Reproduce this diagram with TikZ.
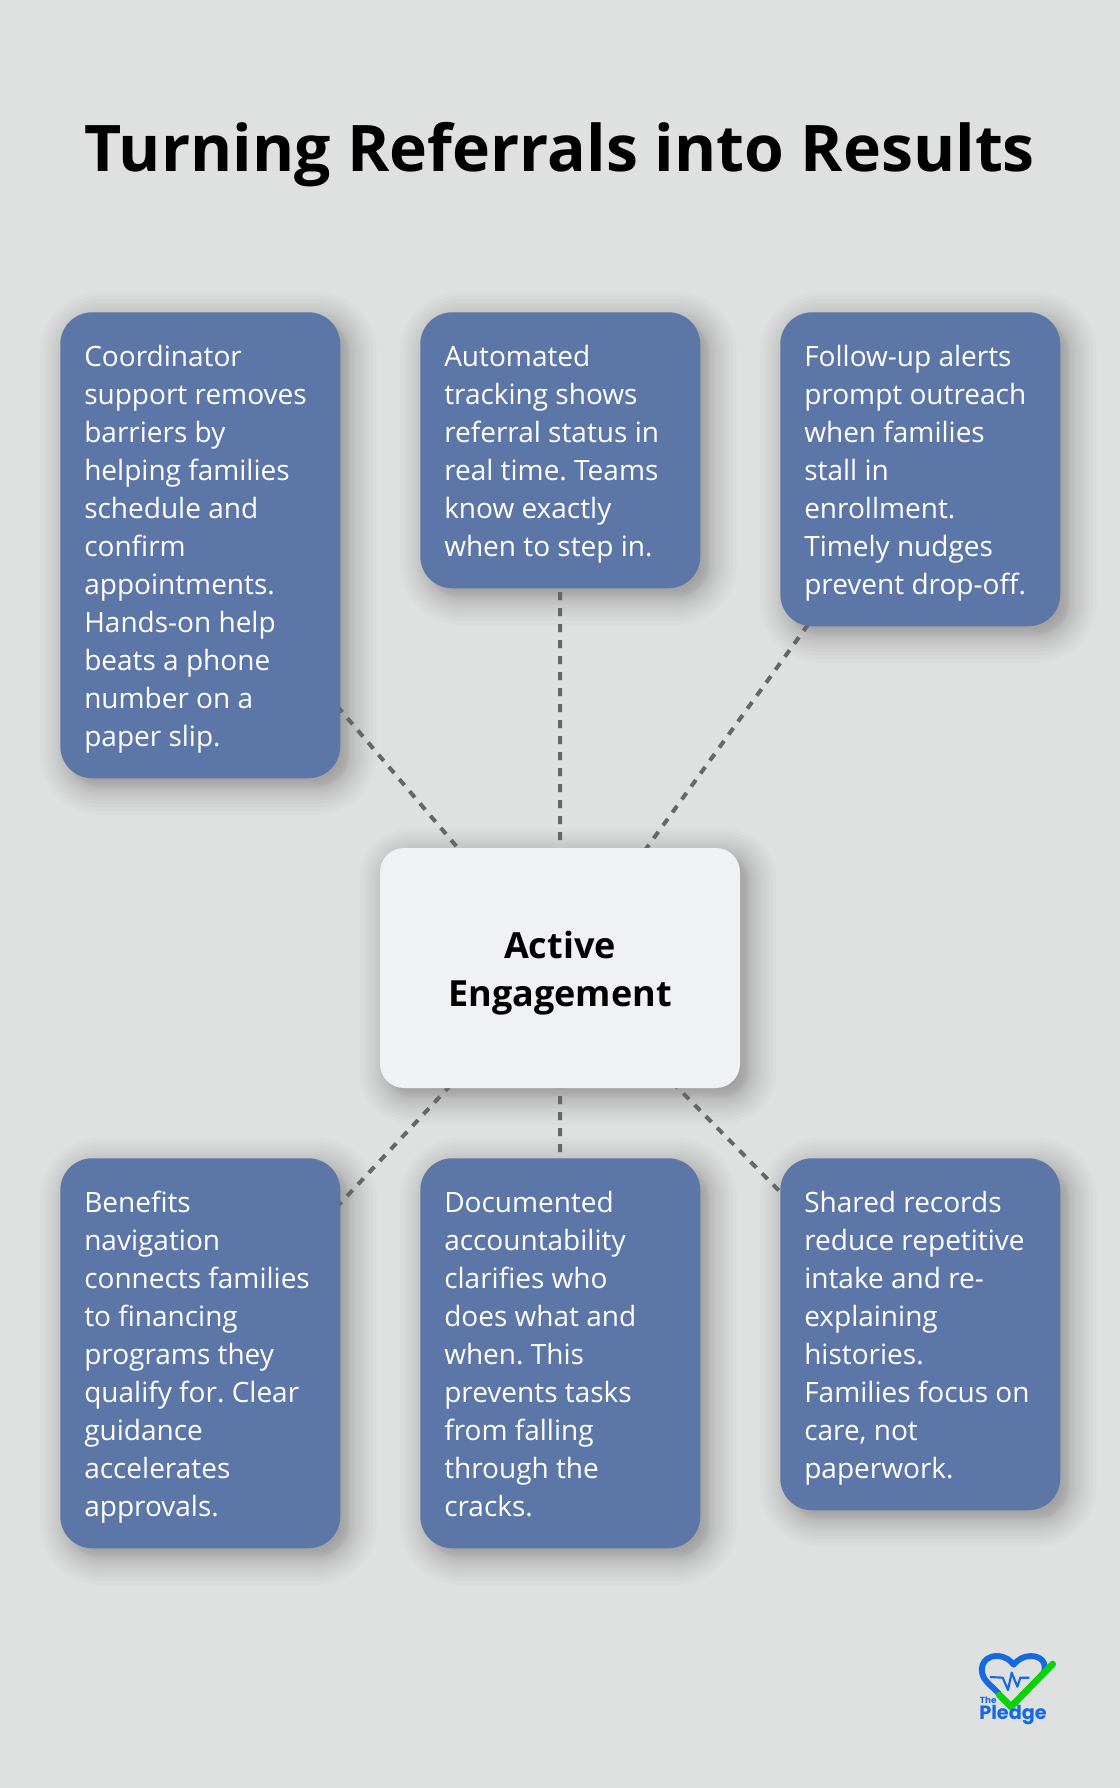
\documentclass[tikz,border=0pt]{standalone}
\usepackage{fontspec}
\setmainfont{Open Sans}
\newfontfamily\logofont{Poppins}
\usetikzlibrary{calc}
\pgfdeclarelayer{shadowlayer}
\pgfdeclarelayer{linelayer}
\pgfsetlayers{shadowlayer,linelayer,main}
\definecolor{pagebg}{HTML}{DFE1E0}
\definecolor{boxblue}{HTML}{5D76A8}
\definecolor{hubfill}{HTML}{EFF1F3}
\definecolor{dashgrey}{HTML}{666666}
\definecolor{logoblue}{HTML}{1668E3}
\definecolor{logogreen}{HTML}{0BD10B}
\newcommand{\firstln}{\rule[-6.1pt]{0pt}{28.5pt}}
\newcommand{\softshadow}[2]{%
  \begin{pgfonlayer}{shadowlayer}
  \foreach \k in {1,...,24}{%
    \pgfmathsetmacro{\uu}{1-(2*\k-1)/24}
    \pgfmathsetmacro{\ee}{30*sign(\uu)*abs(\uu)^1.6}
    \pgfmathsetmacro{\rr}{max(2,#2+\ee*.75)}
    \fill[black,fill opacity=.015,rounded corners=\rr pt]
      ($(#1.north west)+(8-\ee,8-\ee)$) rectangle ($(#1.south east)+(8+\ee,8+\ee)$);
  }
  \end{pgfonlayer}}
\tikzset{
  card/.style={anchor=north west,fill=boxblue,text=white,rounded corners=24pt,
    inner sep=18pt,text width=174pt,align=flush left,
    font=\fontsize{21}{28.5}\selectfont\frenchspacing},
  hubbox/.style={fill=hubfill,text=black,rounded corners=18pt,minimum width=270pt,
    minimum height=180pt,inner sep=0pt,align=center,
    font=\fontsize{27}{36}\selectfont\bfseries},
  link/.style={draw=dashgrey,line width=3pt,dash pattern=on 6pt off 6pt},
  heading/.style={text=black,inner sep=0pt,
    font=\fontsize{48.2}{60}\selectfont\bfseries},
}
\begin{document}
\begin{tikzpicture}[x=.75pt,y=-.75pt]
\useasboundingbox (0,0) rectangle (1120,1788);
\begin{pgfonlayer}{shadowlayer}
\fill[pagebg] (0,0) rectangle (1120,1788);
\end{pgfonlayer}
\node[heading,anchor=base] (title) at (560,171) {Turning Referrals into Results};
\node[hubbox] (hub) at (560,968) {\rule{0pt}{27.5pt}Active\\Engagement};
\node[card] (c1) at (60,312) {\firstln Coordinator\\support removes\\barriers by\\helping families\\schedule and\\confirm\\appointments.\\Hands-on help\\beats a phone\\number on a\\paper slip.\firstln};
\node[card] (c2) at (420,312) {\firstln Automated\\tracking shows\\referral status in\\real time. Teams\\know exactly\\when to step in.\firstln};
\node[card] (c3) at (780,312) {\firstln Follow-up alerts\\prompt outreach\\when families\\stall in\\enrollment.\\Timely nudges\\prevent drop-off.\firstln};
\node[card] (c4) at (60,1158) {\firstln Benefits\\navigation\\connects families\\to financing\\programs they\\qualify for. Clear\\guidance\\accelerates\\approvals.\firstln};
\node[card] (c5) at (420,1158) {\firstln Documented\\accountability\\clarifies who\\does what and\\when. This\\prevents tasks\\from falling\\through the\\cracks.\firstln};
\node[card] (c6) at (780,1158) {\firstln Shared records\\reduce repetitive\\intake and re-\\explaining\\histories.\\Families focus on\\care, not\\paperwork.\firstln};
\foreach \n in {c1,c2,c3,c4,c5,c6}{\softshadow{\n}{24}}
\softshadow{hub}{18}
\begin{pgfonlayer}{linelayer}
\foreach \n in {c1,c2,c3,c4,c5,c6}{\draw[link] (hub.center) -- (\n.center);}
\end{pgfonlayer}
% logo
\begin{scope}[shift={(940,1630)},x=.25pt,y=-.25pt]
\draw[logoblue,line width=4.4pt,line join=round]
  (178,192) -- (140,155) .. controls (112,125) and (125,78) .. (170,78)
  .. controls (195,78) and (210,90) .. (221,104)
  .. controls (232,90) and (250,78) .. (272,78)
  .. controls (305,78) and (320,100) .. (312,125);
\draw[logoblue,line width=1.6pt,line join=round]
  (150,141) -- (188,143) -- (204,180) -- (215,128) -- (232,170) -- (241,143) -- (268,143);
\draw[logogreen,line width=5pt,line cap=round,line join=miter]
  (178,195) -- (213,230) -- (338,102);
\node[anchor=base west,inner sep=0pt,text=logoblue,font=\logofont\fontsize{6.6}{8}\selectfont\bfseries] (logothe) at (119,221) {The};
\node[anchor=base west,inner sep=0pt,text=logoblue,font=\logofont\fontsize{14.4}{16}\selectfont\bfseries] (logoname) at (117,268) {Pledge};
\end{scope}
\end{tikzpicture}
\end{document}
